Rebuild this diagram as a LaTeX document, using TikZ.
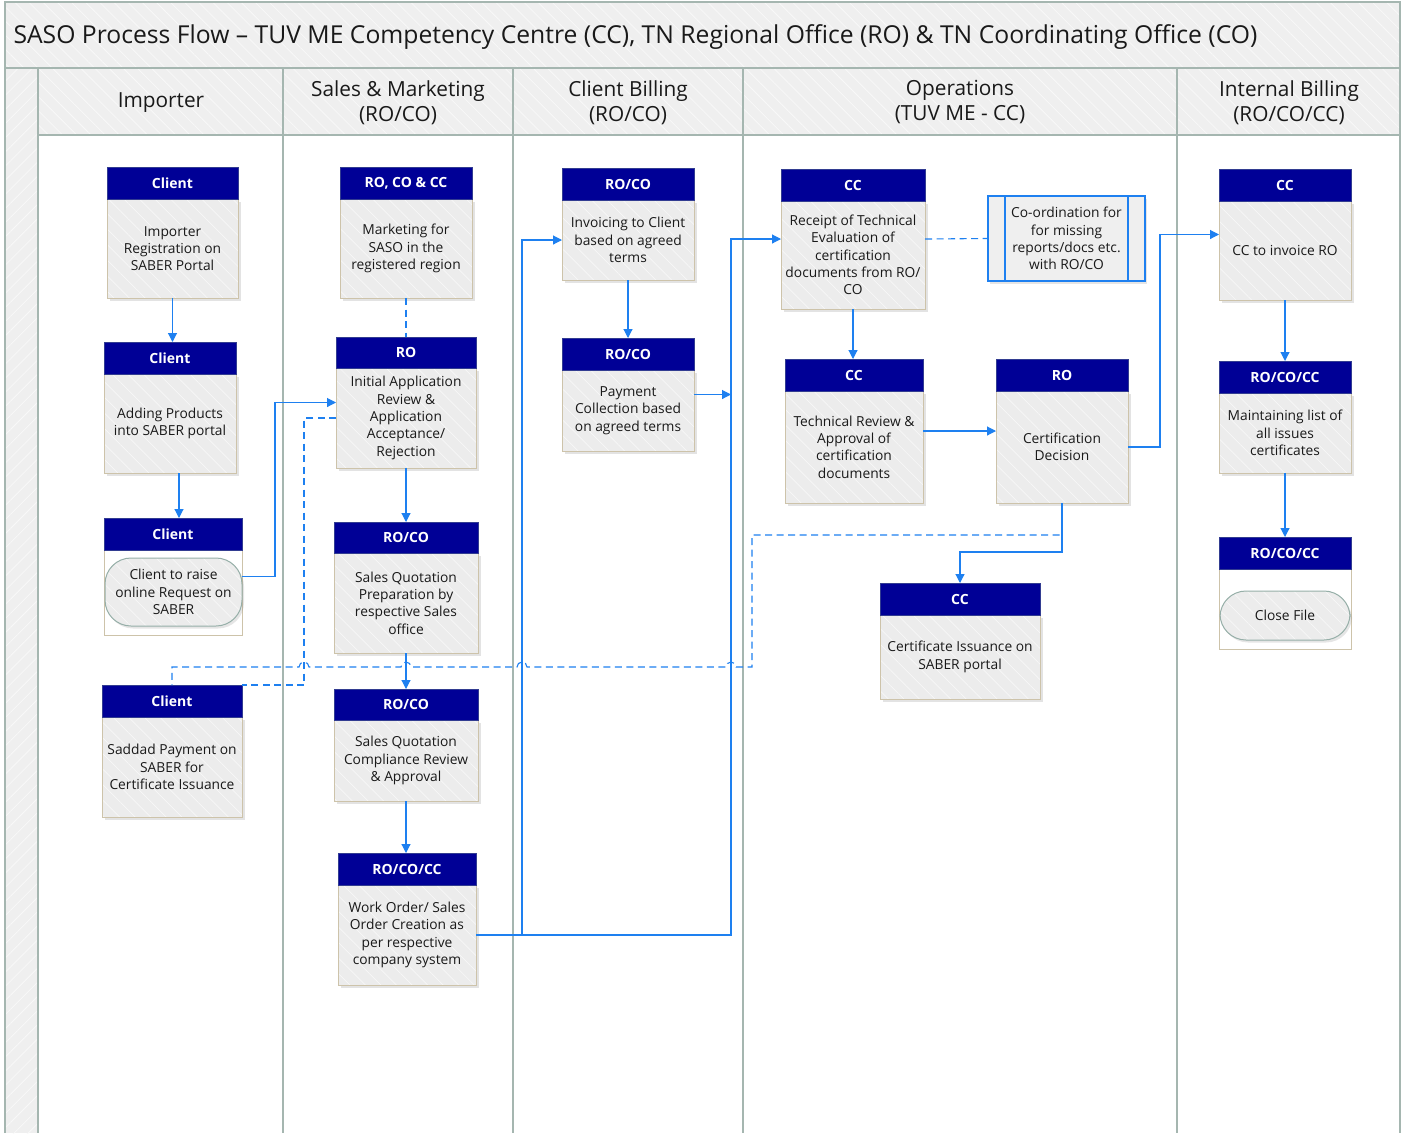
\documentclass[tikz,border=0pt]{standalone}
\usepackage{fontspec}
\setmainfont{Open Sans}
\usetikzlibrary{shadows,patterns.meta,calc,arrows.meta}
\definecolor{hdrblue}{RGB}{0,0,150}
\definecolor{hdredge}{RGB}{50,60,145}
\definecolor{boxfill}{RGB}{236,236,236}
\definecolor{boxedge}{RGB}{205,195,170}
\definecolor{flowc}{RGB}{30,128,240}
\definecolor{lanec}{RGB}{165,182,176}
\definecolor{bandfill}{RGB}{239,239,239}
\definecolor{hatchc}{RGB}{248,248,248}
\definecolor{txt}{RGB}{25,25,25}
\definecolor{pilledge}{RGB}{150,175,168}
\tikzset{
  band/.style={preaction={fill=bandfill}, pattern={Lines[angle=-45,distance=10pt,line width=0.8pt]}, pattern color=hatchc},
  bandl/.style={preaction={fill=bandfill}, pattern={Lines[angle=45,distance=10pt,line width=0.8pt]}, pattern color=hatchc},
  bodyst/.style={draw=boxedge, line width=0.9pt, inner sep=0pt, outer sep=0pt,
    drop shadow={shadow xshift=2.5pt, shadow yshift=-3pt, opacity=0.22},
    preaction={fill=boxfill}, pattern={Lines[angle=-45,distance=11pt,line width=0.7pt]}, pattern color=hatchc,
    align=center, text=txt, font=\fontsize{13.8}{17.3}\selectfont},
  whitebody/.style={draw=boxedge, line width=1pt, fill=white, inner sep=0pt, outer sep=0pt},
  hdrst/.style={draw=hdredge, line width=0.9pt, fill=hdrblue, inner sep=0pt, outer sep=0pt,
    text=white, font=\bfseries\fontsize{14}{16}\selectfont},
  ghost/.style={inner sep=0pt, outer sep=0pt},
  pill/.style={draw=pilledge, line width=1pt, rounded corners=26pt, inner sep=0pt, outer sep=0pt,
    drop shadow={shadow xshift=2pt, shadow yshift=-2.5pt, opacity=0.2},
    preaction={fill=boxfill}, pattern={Lines[angle=-45,distance=11pt,line width=0.7pt]}, pattern color=hatchc,
    align=center, text=txt, font=\fontsize{13.8}{17.3}\selectfont},
  coordst/.style={draw=flowc, line width=2.2pt, inner sep=0pt, outer sep=0pt, fill=bandfill,
    drop shadow={shadow xshift=2pt, shadow yshift=-2.5pt, opacity=0.2},
    align=center, text=txt, font=\fontsize{13.8}{17.3}\selectfont},
  lanehd/.style={align=center, text=txt, font=\fontsize{20.8}{25}\selectfont},
  laneln/.style={draw=lanec, line width=1.4pt},
  flow/.style={draw=flowc, line width=1.1pt, -{Triangle[length=9pt,width=9pt]}},
  dashline/.style={draw=flowc, line width=1.1pt, dash pattern=on 7pt off 4.5pt},
}
\newcommand\pbox[8]{%
  \node[bodyst, minimum width=#3pt-#2pt, minimum height=#6pt-#5pt] (#1) at ({(#2+#3)/2},{(#5+#6)/2}) {#8};
  \node[hdrst, minimum width=#3pt-#2pt, minimum height=#5pt-#4pt] (#1h) at ({(#2+#3)/2},{(#4+#5)/2}) {#7};
  \node[ghost, minimum width=#3pt-#2pt, minimum height=#6pt-#4pt] (#1a) at ({(#2+#3)/2},{(#4+#6)/2}) {};
}
\begin{document}
\begin{tikzpicture}[x=1pt,y=-1pt]
\useasboundingbox (0,0) rectangle (1407,1133);
\fill[white] (0,0) rectangle (1407,1133);
% bands
\path[band] (5,2) rectangle (1400,68);
\path[band] (38,68) rectangle (1400,135);
\path[bandl] (5,68) rectangle (38,1133);
% lane lines
\draw[laneln] (5,1133) -- (5,2) -- (1400,2) -- (1400,1133);
\draw[laneln] (5,68) -- (1400,68);
\draw[laneln] (38,135) -- (1400,135);
\foreach \xx in {38,283,513,743,1177} \draw[laneln] (\xx,68) -- (\xx,1133);
% title and lane headers
\node[anchor=west, text=txt, font=\fontsize{24.7}{29}\selectfont] (title) at (10,37) {SASO Process Flow – TUV ME Competency Centre (CC), TN Regional Office (RO) \& TN Coordinating Office (CO)};
\node[lanehd] (lh1) at (161,103) {Importer};
\node[lanehd] (lh2) at (398,102.5) {Sales \& Marketing\\(RO/CO)};
\node[lanehd] (lh3) at (628,102.5) {Client Billing\\(RO/CO)};
\node[lanehd] (lh4) at (960,102.5) {Operations\\(TUV ME - CC)};
\node[lanehd] (lh5) at (1289,102.5) {Internal Billing\\(RO/CO/CC)};

% Importer lane
\pbox{b1}{107}{238}{167}{199}{298}{Client}{Importer\\Registration on\\SABER Portal}
\pbox{b2}{104}{236}{342}{374}{473}{Client}{Adding Products\\into SABER portal}
\node[whitebody, minimum width=138pt, minimum height=85pt] (b3) at (173,592.5) {};
\node[hdrst, minimum width=138pt, minimum height=32pt] (b3h) at (173,534) {Client};
\node[ghost, minimum width=138pt, minimum height=117pt] (b3a) at (173,576.5) {};
\node[pill, minimum width=137pt, minimum height=68pt] (b3p) at (173.5,592) {Client to raise\\online Request on\\SABER};
\pbox{b4}{102}{242}{685}{717}{817}{Client}{Saddad Payment on\\SABER for\\Certificate Issuance}

% Sales lane
\pbox{s1}{340}{472}{167}{199}{298}{RO, CO \& CC}{Marketing for\\SASO in the\\registered region}
\pbox{s2}{336}{476}{337}{368}{468}{RO}{Initial Application\\Review \&\\Application\\Acceptance/\\Rejection}
\pbox{s3}{334}{478}{522}{553}{653}{RO/CO}{Sales Quotation\\Preparation by\\respective Sales\\office}
\pbox{s4}{334}{478}{689}{720}{801}{RO/CO}{Sales Quotation\\Compliance Review\\\& Approval}
\pbox{s5}{338}{476}{853}{885}{985}{RO/CO/CC}{Work Order/ Sales\\Order Creation as\\per respective\\company system}

% Client billing lane
\pbox{c1}{562}{694}{168}{200}{280}{RO/CO}{Invoicing to Client\\based on agreed\\terms}
\pbox{c2}{562}{694}{338}{370}{451}{RO/CO}{Payment\\Collection based\\on agreed terms}

% Operations lane
\pbox{o1}{781}{925}{169}{201}{309}{CC}{Receipt of Technical\\Evaluation of\\certification\\documents from RO/\\CO}
\node[coordst, minimum width=157pt, minimum height=85pt] (co) at (1066.5,238.5) {Co-ordination for\\for missing\\reports/docs etc.\\with RO/CO};
\draw[flowc, line width=2pt] ([xshift=17pt]co.north west) -- ([xshift=17pt]co.south west);
\draw[flowc, line width=2pt] ([xshift=-17pt]co.north east) -- ([xshift=-17pt]co.south east);
\pbox{o3}{785}{923}{359}{391}{503}{CC}{Technical Review \&\\Approval of\\certification\\documents}
\pbox{o4}{996}{1128}{359}{391}{503}{RO}{Certification\\Decision}
\pbox{o5}{880}{1040}{583}{615}{699}{CC}{Certificate Issuance on\\SABER portal}

% Internal billing lane
\pbox{i1}{1219}{1351}{169}{201}{300}{CC}{CC to invoice RO}
\pbox{i2}{1219}{1351}{361}{393}{473}{RO/CO/CC}{Maintaining list of\\all issues\\certificates}
\node[whitebody, minimum width=132pt, minimum height=80pt] (i3) at (1285,609) {};
\node[hdrst, minimum width=132pt, minimum height=32pt] (i3h) at (1285,553) {RO/CO/CC};
\node[pill, minimum width=130pt, minimum height=49pt] (i3p) at (1285,615.5) {Close File};

% connectors
\draw[flow] (b1.south) -- (b1.south |- b2h.north);
\draw[flow] ([xshift=9pt]b2.south) -- ([xshift=9pt]b2.south |- b3h.north);
\draw[flow] (b3a.east) -- ++(33,0) |- (s2a.west);
\draw[dashline] (s1.south) -- (s1.south |- s2h.north);
\draw[flow] (s2.south) -- (s2.south |- s3h.north);
\draw[flow] (s3.south) -- (s3.south |- s4h.north);
\draw[flow] (s4.south) -- (s4.south |- s5h.north);
\draw[dashline] (s2.west) -- ++(-32,0) |- (b4h.north east);
\draw[flow] (s5.east) -- ++(46,0) |- (c1.west);
\draw[flow] (s5.east) -- ++(255,0) coordinate (vline) |- (o1a.west);
\draw[flow] (c1.south) -- (c1.south |- c2h.north);
\draw[flow] (c2a.east) -- (c2a.east -| vline);
\draw[flow] (o1.south) -- (o1.south |- o3h.north);
\draw[dashline] (o1a.east) -- (co.west);
\draw[flow] (o3a.east) -- (o3a.east -| o4a.west);
\draw[flow] (o4.east) -- ++(32,0) |- (i1a.west);
\draw[flow] (o4.south) -- ++(0,49) -| (o5h.north);
\draw[flow] (i1.south) -- (i1.south |- i2h.north);
\draw[flow] (i2.south) -- (i2.south |- i3h.north);
\draw[dashline] (o4.south) |- (752,535) -- (752,667) -- (736,667)
  arc[start angle=0,end angle=-180,radius=5] -- (527,667)
  arc[start angle=0,end angle=-180,radius=5] -- (411,667)
  arc[start angle=0,end angle=-180,radius=5] -- (309,667)
  arc[start angle=0,end angle=-180,radius=5] -| (b4h.north);
\end{tikzpicture}
\end{document}
